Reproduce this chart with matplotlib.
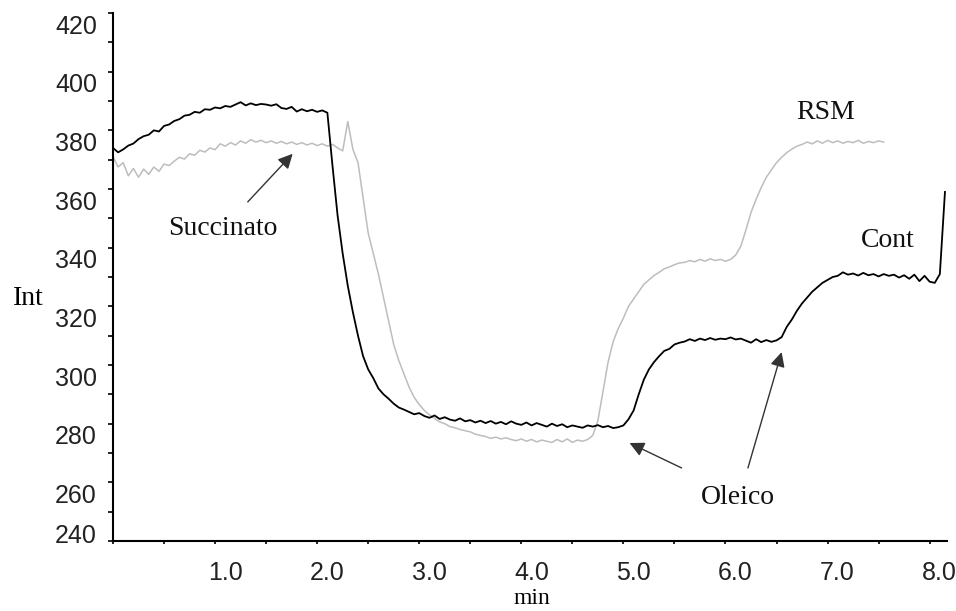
import numpy as np
import matplotlib
matplotlib.use("Agg")
import matplotlib.pyplot as plt
import matplotlib.transforms as mtransforms

# sampling interval of the traces (min)
step = 0.05

# "Cont" trace (black), one value per step from t = 0
cont = [
    374.0, 372.5, 373.5, 374.8, 375.5, 377.0, 378.0, 378.5, 380.0, 379.6,
    381.5, 382.0, 383.2, 383.8, 385.0, 385.3, 386.3, 386.0, 387.2, 387.0,
    387.8, 387.5, 388.3, 388.0, 388.8, 389.6, 388.5, 389.2, 388.6, 389.0,
    388.8, 388.4, 388.9, 387.6, 387.3, 388.0, 386.4, 387.2, 386.5, 387.0,
    386.3, 386.8, 386.0, 368.0, 351.0, 338.0, 327.0, 318.0, 310.0, 303.0,
    298.5, 295.5, 292.0, 290.0, 288.5, 286.8, 285.5, 284.8, 284.0, 283.2,
    283.6, 282.6, 282.0, 282.8, 281.6, 282.2, 281.4, 281.0, 281.8, 280.8,
    281.2, 280.4, 281.0, 280.2, 280.9, 280.0, 280.6, 279.8, 280.8, 280.0,
    279.6, 280.4, 279.4, 280.2, 279.6, 279.0, 280.0, 279.2, 279.8, 278.8,
    279.4, 279.0, 278.6, 279.4, 279.0, 279.5, 278.8, 279.2, 278.5, 278.8,
    279.4, 281.5, 284.5, 290.0, 295.0, 298.5, 301.0, 303.0, 304.8, 305.5,
    307.0, 307.6, 308.0, 308.8, 308.2, 309.0, 308.5, 309.2, 308.6, 309.0,
    308.8, 309.4, 308.7, 309.0, 308.3, 307.6, 308.8, 307.8, 308.5, 307.9,
    308.4, 309.5, 313.0, 315.5, 318.5, 321.0, 323.0, 325.0, 326.5, 328.0,
    329.0, 330.0, 330.4, 331.6, 330.8, 331.2, 330.5, 331.4, 330.6, 331.0,
    330.2, 331.0, 330.4, 330.8, 329.8, 330.6, 329.4, 330.8, 328.6, 330.4,
    328.4, 328.0, 331.0, 359.0,
]

# "RSM" trace (grey)
rsm = [
    371.0, 367.5, 369.0, 364.5, 367.0, 364.0, 366.8, 365.0, 367.5, 366.0,
    368.5, 368.0, 369.5, 370.8, 370.2, 372.0, 371.5, 373.2, 372.6, 374.0,
    373.4, 375.4, 374.6, 375.8, 375.0, 376.4, 375.6, 376.8, 376.0, 376.6,
    375.8, 376.4, 375.6, 376.2, 375.4, 376.0, 375.2, 375.8, 375.0, 375.6,
    374.8, 375.4, 374.6, 375.2, 374.0, 373.0, 383.0, 373.5, 369.0, 357.0,
    345.0, 338.0, 331.0, 323.0, 315.0, 307.0, 301.5, 297.0, 292.5, 289.0,
    286.5, 284.5, 283.0, 281.8, 280.6, 280.0, 279.0, 278.6, 278.0, 277.6,
    277.2, 276.4, 276.0, 275.6, 275.0, 275.4, 274.8, 275.2, 274.6, 274.2,
    274.8, 274.0, 274.6, 273.8, 274.4, 274.0, 273.6, 274.6, 273.8, 274.8,
    273.6, 274.4, 274.0, 274.6, 276.0, 281.0, 291.0, 301.0, 308.0, 312.5,
    316.0, 320.0, 322.5, 325.0, 327.5, 329.0, 330.5, 331.6, 332.8, 333.4,
    334.2, 334.8, 335.0, 335.6, 335.2, 336.0, 335.4, 336.2, 335.6, 336.0,
    335.4, 336.0, 337.5, 340.5, 346.0, 352.0, 356.5, 360.5, 364.0, 366.5,
    369.0, 370.8, 372.4, 373.6, 374.6, 375.2, 376.0, 375.4, 376.4, 375.6,
    376.6, 375.8, 376.4, 375.6, 376.2, 375.8, 376.6, 375.6, 376.2, 375.8,
    376.4, 376.0,
]

t_cont = np.arange(len(cont)) * step
t_rsm = np.arange(len(rsm)) * step

xtick_vals = [0, 1, 2, 3, 4, 5, 6, 7, 8]
xtick_labels = ["", "1.0", "2.0", "3.0", "4.0", "5.0", "6.0", "7.0", "8.0"]
ytick_vals = [240, 260, 280, 300, 320, 340, 360, 380, 400, 420]

# labels and arrows: (text, x, y) and (tail, head)
labels = [("Succinato", 1.08, 346.4), ("RSM", 6.98, 386.0),
          ("Cont", 7.59, 342.3), ("Oleico", 6.12, 254.7)]
arrows = [((1.32, 355.6), (1.76, 372.0)),
          ((5.57, 264.9), (5.06, 273.4)),
          ((6.22, 264.9), (6.55, 304.4))]

fig = plt.figure(figsize=(9.56, 6.11), dpi=100)
ax = fig.add_axes([113 / 956, 1 - 541 / 611, (947 - 113) / 956, (541 - 13) / 611])

ax.plot(t_rsm, rsm, color="#bdbdbd", lw=1.1)
ax.plot(t_cont, cont, color="black", lw=1.3)

ax.set_xlim(0, 8.17)
ax.set_ylim(240, 420)

for s in ["top", "right"]:
    ax.spines[s].set_visible(False)
for s in ["left", "bottom"]:
    ax.spines[s].set_linewidth(1.5)

ax.set_xticks(xtick_vals)
ax.set_xticklabels(xtick_labels)
ax.set_xticks(np.arange(0.5, 8.0, 1.0), minor=True)
ax.set_yticks(ytick_vals)
ax.set_yticks(np.arange(250, 420, 20), minor=True)

ax.tick_params(axis="x", which="both", direction="out", length=2.5, width=1.2, pad=12)
ax.tick_params(axis="y", which="both", direction="out", length=3.6, width=1.2, pad=8)
for lab in ax.get_xticklabels() + ax.get_yticklabels():
    lab.set_family("Liberation Sans")
    lab.set_fontsize(18)
    lab.set_color("#222222")

# tick labels in the original sit a little off their ticks
dx = mtransforms.ScaledTranslation(0.10, 0, fig.dpi_scale_trans)
for lab in ax.get_xticklabels():
    lab.set_transform(lab.get_transform() + dx)
for lab in ax.get_yticklabels():
    off = 0.08 if lab.get_text() == "240" else -0.11
    lab.set_transform(lab.get_transform() + mtransforms.ScaledTranslation(0, off, fig.dpi_scale_trans))

for txt, x, y in labels:
    ax.text(x, y, txt, ha="center", va="center", fontsize=20,
            family="Liberation Serif", color="#111111")

for tail, head in arrows:
    ax.annotate("", xy=head, xytext=tail,
                arrowprops=dict(arrowstyle="-|>", mutation_scale=22, lw=1.0,
                                color="#333333", shrinkA=0, shrinkB=0))

fig.text(28 / 956, 1 - 298 / 611, "Int", ha="center", va="center",
         fontsize=20, family="Liberation Serif")
fig.text(532 / 956, 1 - 599 / 611, "min", ha="center", va="center",
         fontsize=17, family="Liberation Serif")

fig.savefig("out.png", dpi=100)
